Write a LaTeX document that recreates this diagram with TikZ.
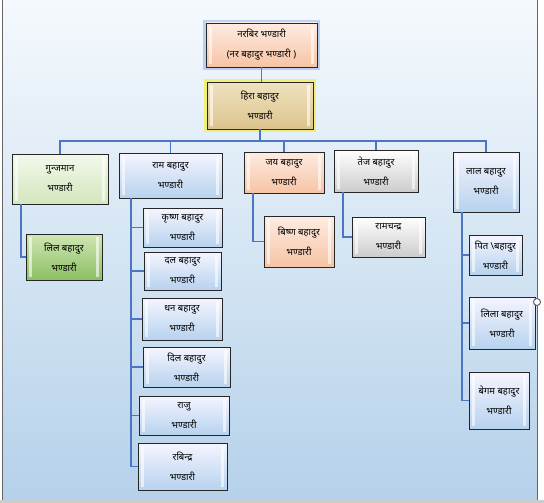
\documentclass[tikz,border=0pt]{standalone}
\usepackage{fontspec}
\newfontfamily\dev[Script=Devanagari]{Noto Sans}

\definecolor{linkblue}{RGB}{74,118,196}
\definecolor{bgtop}{RGB}{245,249,253}
\definecolor{bgbot}{RGB}{181,209,234}

\begin{document}
\begin{tikzpicture}[x=1pt, y=-1pt,
  box/.style={draw=black!85, line width=.8pt, align=center, inner sep=0pt,
    font=\dev\fontsize{9.5}{20}\selectfont, bevel},
  sz/.style 2 args={minimum width=#1pt, minimum height=#2pt},
  bevel/.style={path picture={
    \fill[white, opacity=.6] ([xshift=3pt,yshift=-3pt]path picture bounding box.north west)
      rectangle ([xshift=6pt,yshift=3pt]path picture bounding box.south west);
    \fill[white, opacity=.6] ([xshift=-6pt,yshift=-3pt]path picture bounding box.north east)
      rectangle ([xshift=-3pt,yshift=3pt]path picture bounding box.south east);}},
  bluebox/.style={top color=blue!4, bottom color={rgb,255:red,183;green,210;blue,238}},
  peachbox/.style={top color={rgb,255:red,253;green,236;blue,226}, bottom color={rgb,255:red,247;green,195;blue,164}},
  greenbox/.style={top color={rgb,255:red,243;green,248;blue,235}, bottom color={rgb,255:red,211;green,231;blue,189}},
  dgreenbox/.style={top color={rgb,255:red,207;green,230;blue,181}, bottom color={rgb,255:red,140;green,191;blue,98}},
  greybox/.style={top color=white, bottom color=black!20},
  tanbox/.style={top color={rgb,255:red,239;green,226;blue,191}, bottom color={rgb,255:red,220;green,195;blue,141}},
  glowb/.style={preaction={draw={rgb,255:red,110;green,150;blue,240}, line width=6pt, opacity=.4}},
  glowy/.style={preaction={draw={rgb,255:red,240;green,240;blue,70}, line width=6pt, opacity=.7}},
  link/.style={draw=linkblue, line width=1.2pt}]

  \path[use as bounding box] (0,0) rectangle (544,503);
  \shade[top color=bgtop, bottom color=bgbot] (2,0) rectangle (537,500);
  \fill[black!20] (0,500) rectangle (544,503);
  \draw[black!60, line width=1pt] (2,0) -- (2,500);
  \draw[black!60, line width=1pt] (537,0) -- (537,500);

  \node[box, peachbox, glowb, sz={111}{44}] (N) at (261.5,45) {नरबिर भण्डारी\\(नर बहादुर भण्डारी )};
  \node[box, tanbox, glowy, sz={106}{47}] (H) at (260,105.5) {हिरा बहादुर\\भण्डारी};

  \node[box, greenbox, sz={96}{50}] (G) at (60,179) {गुन्जमान\\भण्डारी};
  \node[box, bluebox, sz={103}{45}] (R) at (170.5,175.5) {राम बहादुर\\भण्डारी};
  \node[box, peachbox, sz={80}{41}] (J) at (284,172.5) {जय बहादुर\\भण्डारी};
  \node[box, greybox, sz={84}{42}] (T) at (376,171) {तेज बहादुर\\भण्डारी};
  \node[box, bluebox, sz={66}{60}] (L) at (486,182) {लाल बहादुर\\भण्डारी};

  \node[box, dgreenbox, sz={76}{46}] (G1) at (64,257) {लिल बहादुर\\भण्डारी};

  \node[box, bluebox, sz={79}{39}] (R1) at (182.5,227.5) {कृष्ण बहादुर\\भण्डारी};
  \node[box, bluebox, sz={77}{38}] (R2) at (182.5,271) {दल बहादुर\\भण्डारी};
  \node[box, bluebox, sz={80}{42}] (R3) at (182,319) {धन बहादुर\\भण्डारी};
  \node[box, bluebox, sz={87}{40}] (R4) at (186.5,367) {दिल बहादुर\\भण्डारी};
  \node[box, bluebox, sz={90}{39}] (R5) at (184,415.5) {राजु\\भण्डारी};
  \node[box, bluebox, sz={89}{47}] (R6) at (182.5,466.5) {रबिन्द्र\\भण्डारी};

  \node[box, peachbox, sz={70}{51}] (J1) at (299,241.5) {बिष्ण बहादुर\\भण्डारी};
  \node[box, greybox, sz={73}{40}] (T1) at (388.5,237) {रामचन्द्र\\भण्डारी};

  \node[box, bluebox, sz={53}{40}] (L1) at (495.5,255) {पित \textbackslash बहादुर\\भण्डारी};
  \node[box, bluebox, sz={66}{52}] (L2) at (502,323) {लिला बहादुर\\भण्डारी};
  \node[box, bluebox, sz={60}{57}] (L3) at (499,400.5) {बेगम बहादुर\\भण्डारी};

  % connectors
  \coordinate (bus) at (0,141);
  \draw[link] (N.south) -- (N.south |- H.north);
  \foreach \c in {G,R,J,T,L}
    \draw[link] (H.south) -- (H.south |- bus) -| (\c.north);

  \coordinate (Gt) at (21,0);
  \coordinate (Rt) at (131,0);
  \coordinate (Jt) at (253,0);
  \coordinate (Tt) at (343,0);
  \coordinate (Lt) at (462,0);
  \draw[link] (G.south -| Gt) |- (G1.west);
  \foreach \i in {1,...,6}
    \draw[link] (R.south -| Rt) |- (R\i.west);
  \draw[link] (J.south -| Jt) |- (J1.west);
  \draw[link] (T.south -| Tt) |- (T1.west);
  \foreach \i in {1,2,3}
    \draw[link] (L.south -| Lt) |- (L\i.west);

  \draw[black!60, fill=white, line width=1pt] (537,302) circle (3.5);
\end{tikzpicture}
\end{document}
